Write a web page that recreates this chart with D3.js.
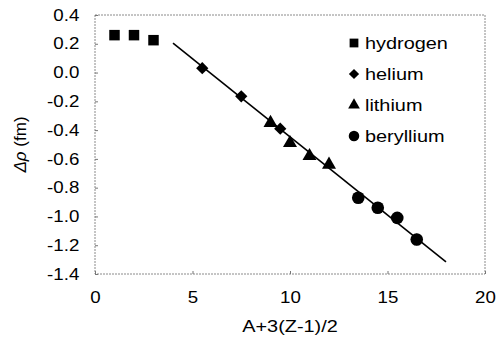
<!DOCTYPE html>
<html>
<head>
<meta charset="utf-8">
<script src="https://cdn.jsdelivr.net/npm/d3@7"></script>
<style>
  body { margin: 0; background: #fff; }
  svg text { font-family: "Liberation Sans", Arial, sans-serif; fill: #000; }
</style>
</head>
<body>
<svg width="503" height="342"></svg>
<script>
// data
var hydrogenX = [1, 2, 3];
var hydrogenY = [0.26, 0.26, 0.225];
var heliumX = [5.5, 7.5, 9.5];
var heliumY = [0.03, -0.165, -0.39];
var lithiumX = [9, 10, 11, 12];
var lithiumY = [-0.35, -0.49, -0.58, -0.64];
var berylliumX = [13.5, 14.5, 15.5, 16.5];
var berylliumY = [-0.87, -0.94, -1.01, -1.16];
var berylliumErr = [0.02, 0.02, 0.02, 0.04];
// fitted line endpoints
var fitX = [4, 18];
var fitY = [0.205, -1.315];

var xTicks = [0, 5, 10, 15, 20];
var yTicks = [0.4, 0.2, 0.0, -0.2, -0.4, -0.6, -0.8, -1.0, -1.2, -1.4];
var legendLabels = ["hydrogen", "helium", "lithium", "beryllium"];

var svg = d3.select("svg");
var margin = { left: 95, right: 18, top: 15, bottom: 68 };
var width = 503 - margin.left - margin.right,
    height = 342 - margin.top - margin.bottom;
var stretch = 1.17; // the scan is a bit wider than tall

var x = d3.scaleLinear().domain([0, 20]).range([margin.left, margin.left + width]);
var y = d3.scaleLinear().domain([-1.4, 0.4]).range([margin.top + height, margin.top]);

// frame
svg.append("rect")
  .attr("x", x(0)).attr("y", y(0.4))
  .attr("width", x(20) - x(0)).attr("height", y(-1.4) - y(0.4))
  .attr("fill", "none").attr("stroke", "#8a8a8a").attr("stroke-width", 1)
  .attr("stroke-dasharray", "2,1");

// axes, ticks inward
var xAxis = d3.axisBottom(x).tickValues(xTicks).tickSize(-3).tickPadding(18).tickFormat(d3.format("d"));
var yAxis = d3.axisLeft(y).tickValues(yTicks).tickSize(-3).tickPadding(16);

var gx = svg.append("g").attr("transform", "translate(0," + y(-1.4) + ")").call(xAxis);
var gy = svg.append("g").attr("transform", "translate(" + x(0) + ",0)").call(yAxis);
[gx, gy].forEach(function(g) {
  g.select(".domain").remove();
  g.selectAll(".tick line").attr("stroke", "#777");
  g.selectAll(".tick text").attr("font-size", 16);
});
gx.selectAll(".tick text").attr("transform", "scale(" + stretch + ",1)");
gy.selectAll(".tick text")
  .attr("transform", "translate(-18,0) scale(" + stretch + ",1) translate(18,0)")
  .text(function(d) { return d.toFixed(1); });

// axis titles
svg.append("text")
  .attr("transform", "translate(" + x(10) + ",332) scale(" + stretch + ",1)")
  .attr("text-anchor", "middle").attr("font-size", 17)
  .text("A+3(Z-1)/2");

var yl = svg.append("text")
  .attr("transform", "translate(26," + ((y(0.4) + y(-1.4)) / 2) + ") rotate(-90)")
  .attr("text-anchor", "middle").attr("font-size", 17);
yl.append("tspan").attr("font-style", "italic").text("Δρ");
yl.append("tspan").text(" (fm)");

// fit line
svg.append("line")
  .attr("x1", x(fitX[0])).attr("y1", y(fitY[0]))
  .attr("x2", x(fitX[1])).attr("y2", y(fitY[1]))
  .attr("stroke", "#000").attr("stroke-width", 1.6);

var sym = {
  hydrogen: { type: d3.symbolSquare, size: 110, rot: 0 },
  helium: { type: d3.symbolSquare, size: 75, rot: 45 },
  lithium: { type: d3.symbolTriangle, size: 85, rot: 0 },
  beryllium: { type: d3.symbolCircle, size: 125, rot: 0 }
};

function series(name, xs, ys) {
  return xs.map(function(v, i) { return { name: name, x: v, y: ys[i] }; });
}

// error bars on beryllium
svg.append("g").selectAll("line")
  .data(berylliumX.map(function(v, i) { return { x: v, y: berylliumY[i], e: berylliumErr[i] }; }))
  .enter().append("line")
  .attr("x1", function(d) { return x(d.x); }).attr("x2", function(d) { return x(d.x); })
  .attr("y1", function(d) { return y(d.y + d.e); }).attr("y2", function(d) { return y(d.y - d.e); })
  .attr("stroke", "#000").attr("stroke-width", 1.2);

var points = [].concat(
  series("hydrogen", hydrogenX, hydrogenY),
  series("helium", heliumX, heliumY),
  series("lithium", lithiumX, lithiumY),
  series("beryllium", berylliumX, berylliumY)
);

svg.append("g").selectAll("path")
  .data(points)
  .enter().append("path")
  .attr("d", function(d) { return d3.symbol().type(sym[d.name].type).size(sym[d.name].size)(); })
  .attr("transform", function(d) {
    return "translate(" + x(d.x) + "," + y(d.y) + ") rotate(" + sym[d.name].rot + ")";
  })
  .attr("fill", "#000");

// legend
var legend = svg.append("g").selectAll("g")
  .data(legendLabels)
  .enter().append("g")
  .attr("transform", function(d, i) { return "translate(354," + (43 + i * 31) + ")"; });

legend.append("path")
  .attr("d", function(d) { return d3.symbol().type(sym[d].type).size(sym[d].size * 0.7)(); })
  .attr("transform", function(d) { return "rotate(" + sym[d].rot + ")"; })
  .attr("fill", "#000");

legend.append("text")
  .attr("transform", "translate(11,6) scale(" + stretch + ",1)")
  .attr("font-size", 17)
  .text(function(d) { return d; });
</script>
</body>
</html>
